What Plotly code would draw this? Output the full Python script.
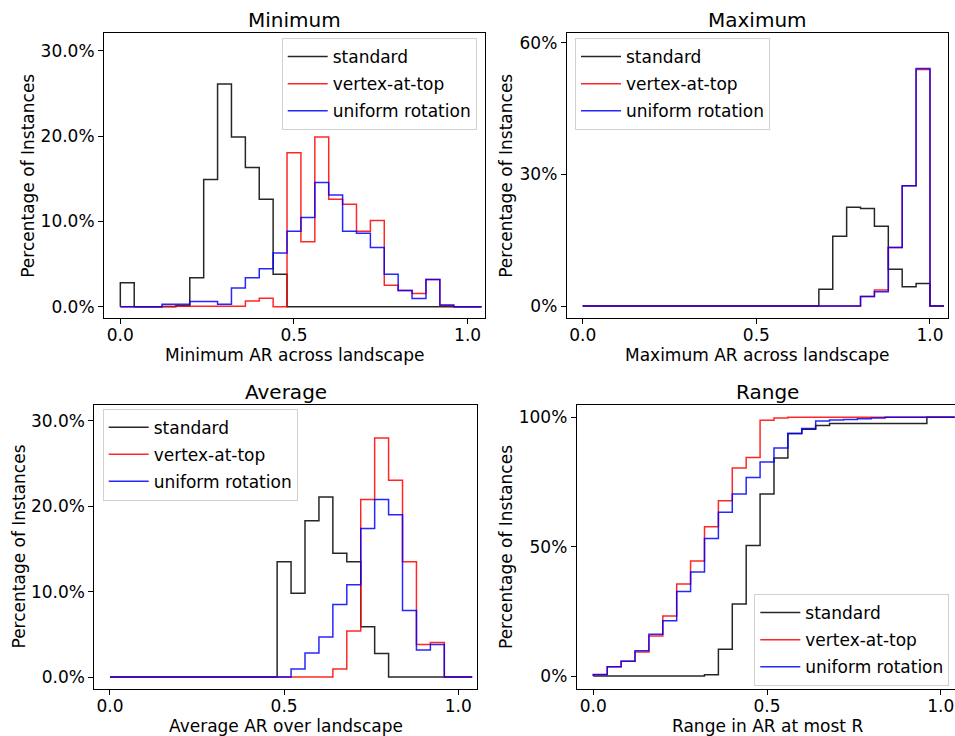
import plotly.graph_objects as go

W, H = 955, 736
FONT = "DejaVu Sans"

# Bin edges shared by all four panels (width 0.04)
edges = [0.00, 0.04, 0.08, 0.12, 0.16, 0.20, 0.24, 0.28, 0.32, 0.36, 0.40,
         0.44, 0.48, 0.52, 0.56, 0.60, 0.64, 0.68, 0.72, 0.76, 0.80, 0.84,
         0.88, 0.92, 0.96, 1.00, 1.04]

series_names = ["standard", "vertex-at-top", "uniform rotation"]

# Minimum AR across landscape (% of instances per bin)
min_standard = [2.8, 0, 0, 0, 0.1, 3.4, 14.9, 26.1, 19.9, 16.3, 12.6, 3.8, 0,
                0, 0, 0, 0, 0, 0, 0, 0, 0, 0, 0, 0, 0]
min_vertex = [0, 0, 0, 0.05, 0.05, 0.05, 0.05, 0.05, 0.05, 0.66, 0.98, 0, 18.05,
              7.6, 19.9, 12.6, 12.0, 8.85, 10.1, 2.5, 1.9, 1.55, 3.2, 0.15, 0, 0]
min_uniform = [0, 0, 0, 0.3, 0.3, 0.6, 0.6, 0.3, 2.2, 3.4, 4.45, 6.3, 8.85,
               10.45, 14.55, 13.1, 8.85, 8.6, 6.95, 3.8, 1.9, 0.95, 3.2, 0.2, 0, 0]

# Maximum AR across landscape
max_standard = [0, 0, 0, 0, 0, 0, 0, 0, 0, 0, 0, 0, 0, 0, 0, 0, 0, 3.8, 15.9,
                22.5, 22.2, 18.15, 8.35, 4.4, 5.15, 0]
max_vertex = [0, 0, 0, 0, 0, 0, 0, 0, 0, 0, 0, 0, 0, 0, 0, 0, 0, 0, 0, 0,
              2.15, 3.65, 13.35, 27.4, 53.9, 0]
max_uniform = [0, 0, 0, 0, 0, 0, 0, 0, 0, 0, 0, 0, 0, 0, 0, 0, 0, 0, 0, 0,
               2.15, 3.25, 13.35, 27.4, 54.15, 0]

# Average AR over landscape
avg_standard = [0, 0, 0, 0, 0, 0, 0, 0, 0, 0, 0, 0, 13.5, 9.8, 18.3, 21.1,
                14.5, 13.5, 5.9, 2.75, 0, 0, 0, 0, 0, 0]
avg_vertex = [0, 0, 0, 0, 0, 0, 0, 0, 0, 0, 0, 0, 0, 0, 0, 0, 0.95, 5.4,
              20.8, 28.0, 23.05, 13.5, 3.8, 4.05, 0, 0]
avg_uniform = [0, 0, 0, 0, 0, 0, 0, 0, 0, 0, 0, 0, 0, 0.95, 2.8, 4.7, 8.5,
               10.8, 17.4, 20.8, 19.0, 7.8, 3.15, 3.8, 0, 0]

# Range in AR: cumulative % of instances with range at most R
rng_standard = [0, 0, 0, 0, 0, 0, 0, 0, 0.5, 10.3, 27.8, 50.5, 70.4, 84.3,
                93.8, 95.4, 96.9, 97.6, 97.6, 97.6, 97.6, 97.6, 97.6, 97.6,
                100, 100]
rng_vertex = [0.5, 3.6, 5.7, 9.3, 15.5, 23.2, 35.6, 44.5, 57.7, 67.8, 80.4,
              84.5, 98.9, 99.8, 100, 100, 100, 100, 100, 100, 100, 100, 100,
              100, 100, 100]
rng_uniform = [0.6, 3.6, 5.7, 9.8, 16.1, 21.4, 32.7, 40.2, 53.2, 63.3, 70.4,
               76.8, 82.7, 88.2, 93.8, 95.7, 98.6, 99.0, 99.2, 99.5, 99.8, 100,
               100, 100, 100, 100]

x_tickvals = [0.0, 0.5, 1.0]
x_ticktext = ["0.0", "0.5", "1.0"]
min_yticks = [0, 10, 20, 30]
min_yticktext = ["0.0%", "10.0%", "20.0%", "30.0%"]
max_yticks = [0, 30, 60]
max_yticktext = ["0%", "30%", "60%"]
avg_yticks = [0, 10, 20, 30]
avg_yticktext = ["0.0%", "10.0%", "20.0%", "30.0%"]
rng_yticks = [0, 50, 100]
rng_yticktext = ["0%", "50%", "100%"]

colors = ["rgba(0,0,0,0.85)", "rgba(255,0,0,0.85)", "rgba(0,0,255,0.85)"]
TXT = 17


def px(x):
    return x / W


def py(y):
    return 1 - y / H


def hist_step(values):
    """Outline of a step histogram: rises from 0 at the first edge, drops at the last."""
    xs = [edges[0]] + edges
    ys = [0] + list(values) + [0]
    return xs, ys


def cdf_step(values):
    xs = [edges[0]] + edges
    ys = [0] + list(values) + [values[-1]]
    return xs, ys


fig = go.Figure()

panels = [
    # (axis suffix, legend id, series, step builder)
    ("", "legend", [min_standard, min_vertex, min_uniform], hist_step),
    ("2", "legend2", [max_standard, max_vertex, max_uniform], hist_step),
    ("3", "legend3", [avg_standard, avg_vertex, avg_uniform], hist_step),
    ("4", "legend4", [rng_standard, rng_vertex, rng_uniform], cdf_step),
]

for suffix, leg, series, builder in panels:
    for name, vals, col in zip(series_names, series, colors):
        xs, ys = builder(vals)
        fig.add_trace(go.Scatter(
            x=xs, y=ys, mode="lines", line=dict(shape="hv", color=col, width=1.5),
            name=name, legend=leg, legendgroup=leg + name,
            xaxis="x" + suffix, yaxis="y" + suffix, hoverinfo="skip",
        ))

tick_font = dict(family=FONT, size=TXT, color="black")


def xaxis(domain, rng, anchor):
    return dict(domain=domain, range=rng, anchor=anchor, tickvals=x_tickvals,
                ticktext=x_ticktext, showline=True, mirror=True, linecolor="black",
                linewidth=1, ticks="outside", ticklen=5, tickwidth=1, tickcolor="black",
                showgrid=False, zeroline=False, tickfont=tick_font, automargin=False,
                ticklabelstandoff=-4)


def yaxis(domain, rng, anchor, tv, tt, mirror=True):
    return dict(domain=domain, range=rng, anchor=anchor, tickvals=tv, ticktext=tt,
                showline=True, mirror=mirror, linecolor="black", linewidth=1,
                ticks="outside", ticklen=5, tickwidth=1, tickcolor="black",
                showgrid=False, zeroline=False, tickfont=tick_font, automargin=False)


top_dom = [py(318.3), py(33.3)]
bot_dom = [py(689.3), py(404.7)]

legend_style = dict(bgcolor="rgba(255,255,255,0.8)", bordercolor="rgba(204,204,204,0.9)",
                    borderwidth=1, font=dict(family=FONT, size=TXT, color="black"),
                    tracegroupgap=2, traceorder="grouped", itemwidth=40)

fig.update_layout(
    width=W, height=H, margin=dict(l=0, r=0, t=0, b=0),
    paper_bgcolor="white", plot_bgcolor="white",
    font=dict(family=FONT, size=TXT, color="black"),
    xaxis=xaxis([px(104), px(485)], [-0.047, 1.05], "y"),
    yaxis=yaxis(top_dom, [-1.36, 32.04], "x", min_yticks, min_yticktext),
    xaxis2=xaxis([px(566.7), px(947.7)], [-0.046, 1.051], "y2"),
    yaxis2=yaxis(top_dom, [-2.8, 62.15], "x2", max_yticks, max_yticktext),
    xaxis3=xaxis([px(94.3), px(476.7)], [-0.045, 1.053], "y3"),
    yaxis3=yaxis(bot_dom, [-1.44, 31.9], "x3", avg_yticks, avg_yticktext),
    xaxis4=xaxis([px(576.7), 1.0], [-0.0478, 1.041], "y4"),
    yaxis4=yaxis(bot_dom, [-5.14, 104.9], "x4", rng_yticks, rng_yticktext, mirror=False),
    legend=dict(x=px(476.7), xanchor="right", y=py(38), yanchor="top", **legend_style),
    legend2=dict(x=px(575), xanchor="left", y=py(38), yanchor="top", **legend_style),
    legend3=dict(x=px(102.7), xanchor="left", y=py(408.6), yanchor="top", **legend_style),
    legend4=dict(x=px(949.3), xanchor="right", y=py(686), yanchor="bottom", **legend_style),
    showlegend=True,
)

# Panel titles and axis labels
texts = [
    ("Minimum", 294.5, 20, 20, 0), ("Maximum", 757.2, 20, 20, 0),
    ("Average", 285.5, 391.5, 20, 0), ("Range", 767.2, 391.5, 20, 0),
    ("Minimum AR across landscape", 294.5, 355, TXT, 0),
    ("Maximum AR across landscape", 757.2, 355, TXT, 0),
    ("Average AR over landscape", 285.5, 726, TXT, 0),
    ("Range in AR at most R", 767.2, 726, TXT, 0),
    ("Percentage of Instances", 28, 175.8, TXT, -90),
    ("Percentage of Instances", 506, 175.8, TXT, -90),
    ("Percentage of Instances", 18.5, 547, TXT, -90),
    ("Percentage of Instances", 506, 547, TXT, -90),
]
for txt, x, y, size, ang in texts:
    fig.add_annotation(text=txt, x=px(x), y=py(y), xref="paper", yref="paper",
                       xanchor="center", yanchor="middle", showarrow=False,
                       textangle=ang, font=dict(family=FONT, size=size, color="black"))

fig.write_html("out.html")
